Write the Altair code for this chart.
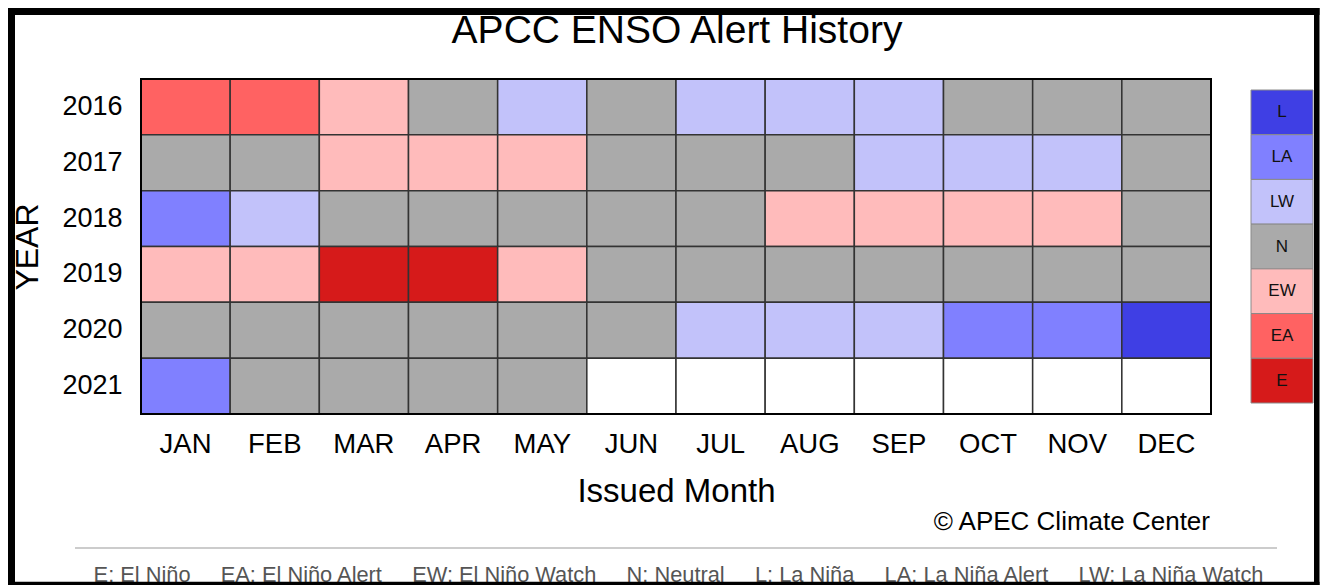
import altair as alt
import pandas as pd

MONTHS = ["JAN", "FEB", "MAR", "APR", "MAY", "JUN", "JUL", "AUG", "SEP", "OCT", "NOV", "DEC"]
YEARS = ["2016", "2017", "2018", "2019", "2020", "2021"]
ALERTS_2016 = ["EA", "EA", "EW", "N", "LW", "N", "LW", "LW", "LW", "N", "N", "N"]
ALERTS_2017 = ["N", "N", "EW", "EW", "EW", "N", "N", "N", "LW", "LW", "LW", "N"]
ALERTS_2018 = ["LA", "LW", "N", "N", "N", "N", "N", "EW", "EW", "EW", "EW", "N"]
ALERTS_2019 = ["EW", "EW", "E", "E", "EW", "N", "N", "N", "N", "N", "N", "N"]
ALERTS_2020 = ["N", "N", "N", "N", "N", "N", "LW", "LW", "LW", "LA", "LA", "L"]
ALERTS_2021 = ["LA", "N", "N", "N", "N", "", "", "", "", "", "", ""]
ALERTS = [ALERTS_2016, ALERTS_2017, ALERTS_2018, ALERTS_2019, ALERTS_2020, ALERTS_2021]

CODES = ["L", "LA", "LW", "N", "EW", "EA", "E"]
COLORS = ["#3F3FE4", "#8080FF", "#C2C2FA", "#AAAAAA", "#FFBBBB", "#FF6262", "#D61A1A"]

TITLE = "APCC ENSO Alert History"
COPYRIGHT = "\u00a9 APEC Climate Center"
FOOTER_ITEMS = ["E: El Ni\u00f1o", "EA: El Ni\u00f1o Alert", "EW: El Ni\u00f1o Watch", "N: Neutral",
                "L: La Ni\u00f1a", "LA: La Ni\u00f1a Alert", "LW: La Ni\u00f1a Watch"]

rows = []
for y, codes in zip(YEARS, ALERTS):
    for m, c in zip(MONTHS, codes):
        rows.append({"year": y, "month": m, "code": c if c else "blank"})
df = pd.DataFrame(rows)

color_scale = alt.Scale(domain=CODES + ["blank"], range=COLORS + ["#FFFFFF"])

W, H = 1070, 335

heat = alt.Chart(df).mark_rect(stroke="#333333", strokeWidth=1.5).encode(
    x=alt.X("month:N", sort=MONTHS, scale=alt.Scale(paddingInner=0, paddingOuter=0),
            axis=alt.Axis(orient="bottom", labelAngle=0, ticks=False, domain=False,
                          labelFontSize=27.5, labelColor="black", labelPadding=16,
                          title="Issued Month", titleFontSize=33, titleFontWeight="normal",
                          titleColor="black", titlePadding=18)),
    y=alt.Y("year:N", sort=YEARS, scale=alt.Scale(paddingInner=0, paddingOuter=0),
            axis=alt.Axis(ticks=False, domain=False, labelFontSize=27, labelColor="black",
                          labelPadding=19, title="YEAR", titleFontSize=32,
                          titleFontWeight="normal", titleColor="black", titlePadding=17)),
    color=alt.Color("code:N", scale=color_scale, legend=None),
)

border = alt.Chart(pd.DataFrame({"a": [0]})).mark_rect(
    fill=None, stroke="black", strokeWidth=2
).encode(x=alt.value(0), x2=alt.value(W), y=alt.value(0), y2=alt.value(H))

leg_df = pd.DataFrame({"code": CODES})
leg_y = alt.Y("code:N", sort=CODES,
              scale=alt.Scale(domain=CODES, range=[11, 324], paddingInner=0, paddingOuter=0),
              axis=None)
leg_rect = alt.Chart(leg_df).mark_rect(stroke="#8a8a8a", strokeWidth=1).encode(
    x=alt.value(1110), x2=alt.value(1172), y=leg_y,
    color=alt.Color("code:N", scale=color_scale, legend=None),
)
leg_text = alt.Chart(leg_df).mark_text(fontSize=17, color="#111111").encode(
    x=alt.value(1141), y=leg_y, text="code:N"
)

title = alt.Chart(pd.DataFrame({"t": [TITLE]})).mark_text(
    fontSize=39, color="black", baseline="alphabetic", align="center"
).encode(x=alt.value(536), y=alt.value(-36.5), text="t:N")

copyright_ = alt.Chart(pd.DataFrame({"t": [COPYRIGHT]})).mark_text(
    fontSize=26, color="black", baseline="alphabetic", align="right"
).encode(x=alt.value(1069), y=alt.value(451), text="t:N")

sep = alt.Chart(pd.DataFrame({"a": [0]})).mark_rule(color="#cccccc", strokeWidth=2).encode(
    x=alt.value(-66), x2=alt.value(1136), y=alt.value(469)
)

footer_str = ("\u00a0" * 5).join(FOOTER_ITEMS)
footer = alt.Chart(pd.DataFrame({"t": [footer_str]})).mark_text(
    fontSize=21.8, color="#555555", baseline="alphabetic", align="center"
).encode(x=alt.value(537.5), y=alt.value(503), text="t:N")

frame_df = pd.DataFrame({"a": [0]})
def bar(x, x2, y, y2):
    return alt.Chart(frame_df).mark_rect(color="black", strokeWidth=0).encode(
        x=alt.value(x), x2=alt.value(x2), y=alt.value(y), y2=alt.value(y2))

frame_left = bar(-133, -126, -71, 510)
frame_top = bar(-133, 1178.5, -71, -64)
frame_right = bar(1173, 1178.5, -71, 510)
frame_bottom = bar(-133, 1178.5, 502.7, 510)

chart = alt.layer(
    heat, border, leg_rect, leg_text, title, copyright_, sep, footer,
    frame_left, frame_top, frame_right, frame_bottom
).resolve_scale(y="independent").properties(
    width=W, height=H, padding=0, background="white"
).configure(font="Liberation Sans").configure_view(stroke=None)

chart.save("out.html", embed_options={"renderer": "svg", "actions": False})
